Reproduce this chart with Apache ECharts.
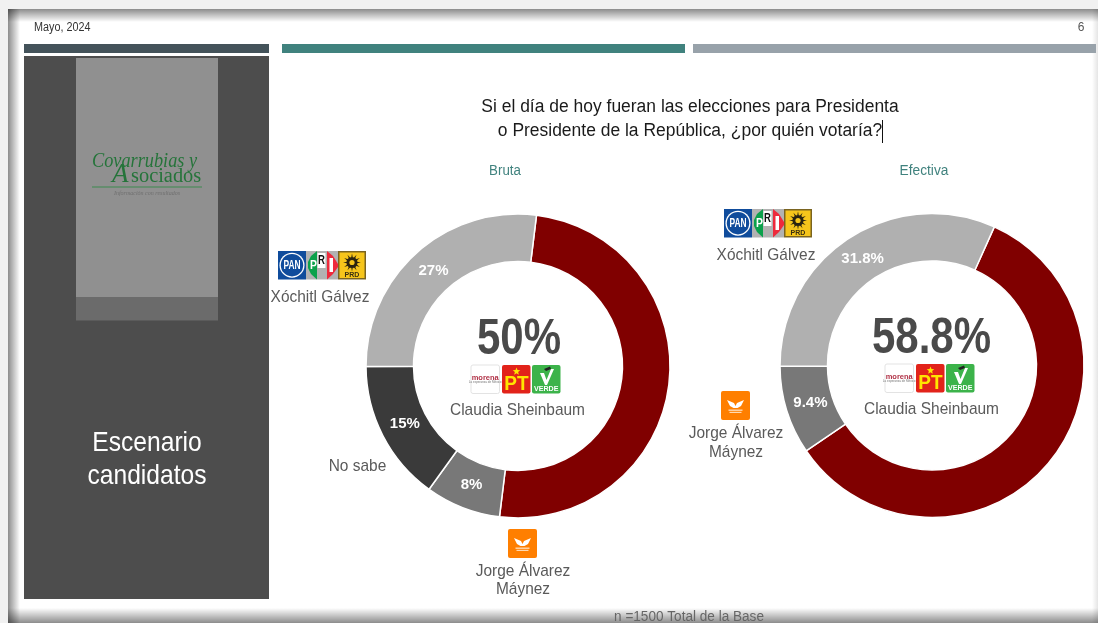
<!DOCTYPE html>
<html lang="es"><head><meta charset="utf-8">
<style>html,body{margin:0;padding:0;background:#fff}#c{width:1098px;height:623px;filter:blur(0.45px)}</style>
<script src="https://cdn.jsdelivr.net/npm/echarts@6/dist/echarts.min.js"></script>
</head><body><div id="c"></div>
<script>
const candidates = ['Claudia Sheinbaum','Jorge Álvarez Máynez','No sabe','Xóchitl Gálvez'];
const brutaValues = [50, 8, 15, 27];
const efectivaCandidates = ['Claudia Sheinbaum','Jorge Álvarez Máynez','Xóchitl Gálvez'];
const efectivaValues = [58.8, 9.4, 31.8];
const brutaColors = ['#800000','#787878','#3a3a3a','#b0b0b0'];
const efectivaColors = ['#800000','#787878','#b0b0b0'];
const titleLines = ['Si el día de hoy fueran las elecciones para Presidenta','o Presidente de la República, ¿por quién votaría?'];
const panelTitle = ['Escenario','candidatos'];
const FONT = '"Liberation Sans", Arial, sans-serif';
const G = [];
const rect = (x,y,w,h,fill,extra={}) => G.push({type:'rect',shape:{x,y,width:w,height:h,r:extra.r||0},style:{fill,stroke:extra.stroke,lineWidth:extra.lw||0},silent:true});
const txt = (t,x,y,size,fill,o={}) => G.push({type:'text',x,y:y+(size>=12&&!o.logo?1:0),scaleX:o.sx||1,silent:true,style:{text:t,x:0,y:0,fill,fontSize:size,fontFamily:o.font||FONT,fontWeight:o.w||'normal',fontStyle:o.st||'normal',align:o.a||'center',verticalAlign:'middle'}});
const poly = (pts,fill) => G.push({type:'polygon',shape:{points:pts},style:{fill},silent:true});
const grad = (x,y,x2,y2,c1,c2) => ({type:'linear',x,y,x2,y2,colorStops:[{offset:0,color:c1},{offset:1,color:c2}]});

// page frame
rect(0,0,1098,623,'#ffffff');
rect(0,0,1098,9,'#f1f1f1');
rect(0,0,8,623,'#f1f1f1');
rect(1092,9,6,614,grad(0,0,1,0,'rgba(0,0,0,0)','rgba(0,0,0,0.10)'));
rect(8,9,1090,13,grad(0,0,0,1,'rgba(0,0,0,0.45)','rgba(0,0,0,0)'));
rect(8,608,1090,15,grad(0,0,0,1,'rgba(0,0,0,0)','rgba(0,0,0,0.45)'));
rect(8,9,12,614,grad(0,0,1,0,'rgba(0,0,0,0.45)','rgba(0,0,0,0)'));

// header
txt('Mayo, 2024',34,26.5,12,'#333333',{a:'left',sx:0.9});
txt('6',1081,26.5,12,'#555555');
rect(24,44,245,9,'#44535a');
rect(282,44,403,9,'#40827e');
rect(693,44,403,9,'#98a2aa');

// left panel
rect(24,56,245,543,'#4d4d4d');
rect(76,58,142,239,'#909090');
rect(76,297,142,23.5,'#6b6b6b');
const SERIF='"Liberation Serif",serif';
txt('Covarrubias y',92,161,21,'#25743a',{a:'left',font:SERIF,st:'italic',sx:0.87,logo:1});
txt('A',112,175,27,'#25743a',{a:'left',font:SERIF,st:'italic',logo:1});
txt('sociados',131,177,20,'#25743a',{a:'left',font:SERIF,sx:1.02,logo:1});
rect(92,186.5,110,1,'#3d8a4f');
txt('Información con resultados',147,193,6,'#6f6f6f',{font:SERIF,st:'italic'});
txt(panelTitle[0],147,442,28,'#ffffff',{sx:0.88});
txt(panelTitle[1],147,475,28,'#ffffff',{sx:0.88});

// question
txt(titleLines[0],690,106,18,'#1a1a1a',{sx:0.97});
txt(titleLines[1],690,130,18,'#1a1a1a',{sx:0.97});
rect(882,120,1,23,'#111111');
txt('Bruta',505,170.5,14,'#40827e',{sx:0.95});
txt('Efectiva',924,170.5,14,'#40827e',{sx:0.98});
txt('n =1500 Total de la Base',689,616.5,14,'#666666',{sx:0.97});

// logos
function coalition(x,y){
  rect(x,y,28,28.5,'#0f4c9c');
  G.push({type:'circle',shape:{cx:x+14,cy:y+14.2,r:12.5},style:{fill:'#ffffff'},silent:true});
  G.push({type:'circle',shape:{cx:x+14,cy:y+14.2,r:11.2},style:{fill:'#0f4c9c'},silent:true});
  txt('PAN',x+14,y+14.5,12,'#ffffff',{w:'bold',sx:0.7,logo:1});
  rect(x+28,y,32,28.5,'#b2b2b2');
  poly([[x+39,y],[x+33,y+5],[x+30,y+11],[x+30,y+17],[x+33,y+23],[x+39,y+28.5]],'#0ba14b');
  txt('P',x+35.5,y+14.5,13,'#ffffff',{w:'bold',sx:0.8,logo:1});
  rect(x+39.5,y+2,8,15,'#ffffff');
  txt('R',x+43.5,y+9.5,12,'#111111',{w:'bold',sx:0.8,logo:1});
  poly([[x+49,y],[x+55,y+5],[x+60,y+13],[x+60,y+16],[x+55,y+23],[x+49,y+28.5]],'#ee2a3c');
  rect(x+51.5,y+7,3.5,14,'#ffffff');
  rect(x+60,y,28,28.5,'#7a6420');
  rect(x+61.5,y+1.5,25,25.5,'#f6c51b');
  const cx=x+74, cy=y+11.5;
  for(let i=0;i<12;i++){const a=i*Math.PI/6, b=a+0.16, c=a-0.16;
    poly([[cx+Math.cos(c)*5,cy+Math.sin(c)*5],[cx+Math.cos(a)*9,cy+Math.sin(a)*9],[cx+Math.cos(b)*5,cy+Math.sin(b)*5]],'#2b2410');}
  G.push({type:'circle',shape:{cx,cy,r:5.5},style:{fill:'#2b2410'},silent:true});
  G.push({type:'circle',shape:{cx,cy,r:2.6},style:{fill:'#f6c51b'},silent:true});
  txt('PRD',x+74,y+24,7,'#3a3010',{w:'bold'});
}
function morenaPtVerde(x,y){
  rect(x,y,28.5,28.5,'#ffffff',{r:2,stroke:'#e3e3e3',lw:1});
  txt('morena',x+14.2,y+12.5,7.5,'#b03045',{w:'bold'});
  txt('La esperanza de México',x+14.2,y+17.5,3,'#777777');
  rect(x+31,y,28.5,28.5,'#e2231a',{r:2});
  const sx=x+45.5, sy=y+6.5, pts=[];
  for(let i=0;i<10;i++){const r=i%2?1.7:4, a=-Math.PI/2+i*Math.PI/5; pts.push([sx+Math.cos(a)*r,sy+Math.sin(a)*r]);}
  poly(pts,'#ffe500');
  txt('PT',x+45.5,y+19.5,20,'#ffe500',{w:'bold',sx:0.95,logo:1});
  rect(x+61,y,28.5,28.5,'#3cb34a',{r:2});
  poly([[x+69,y+8],[x+73,y+8],[x+75.5,y+15],[x+80,y+4],[x+83,y+4],[x+76,y+20],[x+74,y+20]],'#ffffff');
  poly([[x+73,y+4],[x+79,y+1.5],[x+80,y+4],[x+75,y+6]],'#222222');
  txt('VERDE',x+75.2,y+24.2,7.5,'#ffffff',{w:'bold',sx:0.95});
}
function mc(x,y){
  rect(x,y,29,29,'#ff7f00',{r:2});
  poly([[x+6,y+9],[x+13,y+12],[x+14.5,y+15],[x+16,y+12],[x+23,y+9],[x+20,y+15],[x+16.5,y+17],[x+12.5,y+17],[x+9,y+15]],'#ffffff');
  rect(x+7.5,y+18.5,14,1.4,'#ffd9b0');
  rect(x+8.5,y+20.8,12,1.2,'#ffd9b0');
}
coalition(278,251); coalition(724,209);
morenaPtVerde(471,365); morenaPtVerde(885,364);
mc(508,529); mc(721,391);

// candidate captions
const CAP='#5a5a5a', CAPSZ=17, CAPSX=0.91;
const capt=(t,x,y)=>txt(t,x,y+1,CAPSZ,CAP,{sx:CAPSX});
capt(candidates[3],320,295.5); capt(candidates[2],357.5,464.5);
capt('Jorge Álvarez',523,569.5); capt('Máynez',523,587.5);
capt(candidates[0],517.5,408); capt(candidates[0],931.5,407);
capt(efectivaCandidates[2],766,253.5);
capt('Jorge Álvarez',736,431.5); capt('Máynez',736,450.5);
txt(brutaValues[0]+'%',519,339,50,'#4a4a4a',{w:'bold',sx:0.84});
txt(efectivaValues[0]+'%',931.5,338,50,'#4a4a4a',{w:'bold',sx:0.84});

const pie=(name,cx,cy,start,names,vals,cols)=>{
  const total=vals.reduce((a,b)=>a+b,0);
  let acc=0;
  const mids=vals.map(v=>{const m=start-(acc+v/2)/total*360; acc+=v; return m*Math.PI/180;});
  return {
    type:'pie',name,center:[cx,cy],radius:[104.5,152],startAngle:start,clockwise:true,silent:true,z:5,
    avoidLabelOverlap:false,labelLine:{show:false},
    itemStyle:{borderColor:'#ffffff',borderWidth:1.5},
    labelLayout:p=>({dx:-Math.cos(mids[p.dataIndex])*4,dy:Math.sin(mids[p.dataIndex])*4}),
    data:names.map((n,i)=>({name:n,value:vals[i],itemStyle:{color:cols[i]},
      label:{show:i>0,position:'inside',formatter:vals[i]+'%',color:'#ffffff',fontSize:15,fontWeight:'bold',fontFamily:FONT}}))
  };
};
const chart=echarts.init(document.getElementById('c'),null,{renderer:'canvas'});
chart.setOption({animation:false,backgroundColor:'#ffffff',graphic:{elements:G},
  series:[
    pie('Bruta',518,366,83,candidates,brutaValues,brutaColors),
    pie('Efectiva',932,365.5,65.8,efectivaCandidates,efectivaValues,efectivaColors)
  ]});
</script></body></html>
